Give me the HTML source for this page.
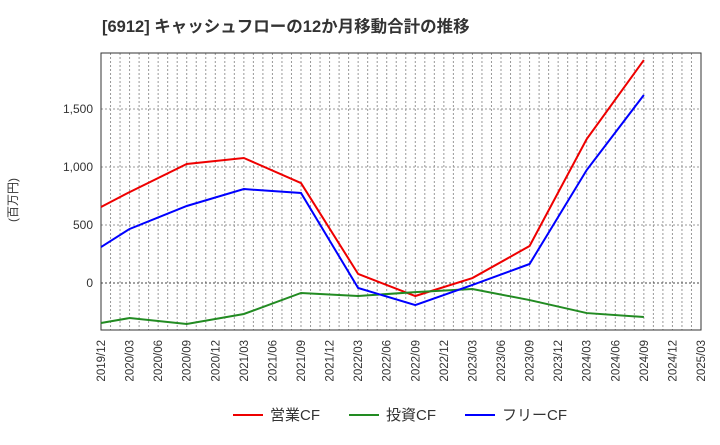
<!DOCTYPE html>
<html><head><meta charset="utf-8"><style>
body{margin:0;background:#fff;font-family:"Liberation Sans","Noto Sans CJK JP",sans-serif}
</style></head><body>
<svg id="c" width="720" height="440" xmlns="http://www.w3.org/2000/svg">
<text x="102" y="32" font-size="16.5" font-weight="bold" fill="#333">[6912]  キャッシュフローの12か月移動合計の推移</text>
<text transform="translate(17,200) rotate(-90)" font-size="12" fill="#333" text-anchor="middle">(百万円)</text>
<g id="grid"></g><g id="axes"></g><g id="series"></g>
<g>
<line x1="233" y1="415" x2="263" y2="415" stroke="#e00" stroke-width="2"/><text x="270" y="420" font-size="15" fill="#333">営業CF</text>
<line x1="349" y1="415" x2="379" y2="415" stroke="#228B22" stroke-width="2"/><text x="386" y="420" font-size="15" fill="#333">投資CF</text>
<line x1="465" y1="415" x2="495" y2="415" stroke="#00f" stroke-width="2"/><text x="502" y="420" font-size="15" fill="#333">フリーCF</text>
</g>
</svg>
<script>
const xLabels=["2019/12","2020/03","2020/06","2020/09","2020/12","2021/03","2021/06","2021/09","2021/12","2022/03","2022/06","2022/09","2022/12","2023/03","2023/06","2023/09","2023/12","2024/03","2024/06","2024/09","2024/12","2025/03"];
const yTicks=[0,500,1000,1500];
const qIdx=[0,1,3,5,7,9,11,13,15,17,19];
const operatingCF=[655,784,1026,1078,862,78,-112,43,319,1241,1922];
const investingCF=[-345,-302,-353,-267,-86,-112,-78,-52,-147,-259,-293];
const freeCF=[310,466,664,810,776,-43,-190,-17,164,974,1621];
const L=101,R=701,T=53,B=330,yMin=-405,yMax=1983;
const xs=i=>L+(R-L)*i/21;
const ys=v=>B-(v-yMin)/(yMax-yMin)*(B-T);
const NS="http://www.w3.org/2000/svg";
function mk(p,t,a){const e=document.createElementNS(NS,t);for(const k in a)e.setAttribute(k,a[k]);p.appendChild(e);return e;}
const g=document.getElementById('grid'),ax=document.getElementById('axes'),s=document.getElementById('series');
for(let m=1;m<63;m++){const x=L+(R-L)*m/63;const l=mk(g,'line',{x1:x,x2:x,y1:T,y2:B,stroke:'#999','stroke-dasharray':'2,2','stroke-width':1});

}
yTicks.forEach(v=>{const y=ys(v);const l=mk(g,'line',{x1:L,x2:R,y1:y,y2:y,stroke:v==0?'#444':'#999','stroke-dasharray':'2,2'});


const t=mk(ax,'text',{x:L-8,y:y+4,'text-anchor':'end','font-size':12,fill:'#333'});t.textContent=v.toLocaleString('en-US');

});
const fr=mk(ax,'rect',{x:L,y:T,width:R-L,height:B-T,fill:'none',stroke:'#333'});


xLabels.forEach((lb,i)=>{const x=xs(i);const t=mk(ax,'text',{transform:`translate(${x+4},340) rotate(-90)`,'text-anchor':'end','font-size':11.5,fill:'#333'});t.textContent=lb;

});
[[operatingCF,'#e00','operating-cf-line'],[investingCF,'#228B22','investing-cf-line'],[freeCF,'#00f','free-cf-line']].forEach(([d,c,n])=>{
const p=mk(s,'polyline',{points:d.map((v,i)=>xs(qIdx[i])+','+ys(v)).join(' '),fill:'none',stroke:c,'stroke-width':2});

});
</script>
</body></html>
